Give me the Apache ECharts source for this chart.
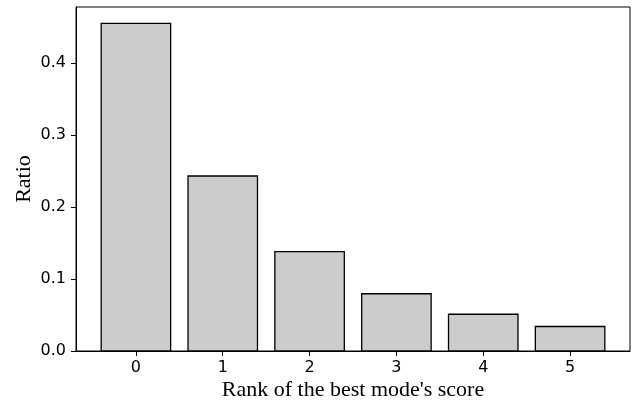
<!DOCTYPE html>
<html><head><meta charset="utf-8">
<script src="https://cdn.jsdelivr.net/npm/echarts@6/dist/echarts.min.js"></script>
<style>html,body{margin:0;padding:0;background:#fff}#c{width:644px;height:400px}</style>
</head><body><div id="c"></div>
<script>
const ranks = [0, 1, 2, 3, 4, 5];
const ratios = [0.455, 0.243, 0.138, 0.0795, 0.051, 0.034];
const yTicks = [0, 0.1, 0.2, 0.3, 0.4];
const chart = echarts.init(document.getElementById('c'));
chart.setOption({
  animation: false,
  grid: {left: 76, right: 14, top: 7, bottom: 49, show: true, borderColor: '#000', borderWidth: 1,
    containLabel: false, outerBoundsMode: 'none'},
  xAxis: {
    type: 'value', min: -0.69, max: 5.69,
    name: "Rank of the best mode's score", nameLocation: 'middle', nameGap: 39, nameMoveOverlap: false,
    nameTextStyle: {fontFamily: 'Liberation Serif', fontSize: 22, color: '#000', verticalAlign: 'middle'},
    axisLine: {show: true, onZero: false, lineStyle: {color: '#000'}},
    axisTick: {show: true, length: 5, customValues: ranks, lineStyle: {color: '#000'}},
    axisLabel: {customValues: ranks, fontFamily: 'DejaVu Sans', fontSize: 16, color: '#000', margin: 9},
    splitLine: {show: false}
  },
  yAxis: {
    type: 'value', min: 0, max: 0.4777,
    name: 'Ratio', nameLocation: 'middle', nameGap: 52, nameMoveOverlap: false,
    nameTextStyle: {fontFamily: 'Liberation Serif', fontSize: 22, color: '#000', verticalAlign: 'middle'},
    axisLine: {show: true, onZero: false, lineStyle: {color: '#000'}},
    axisTick: {show: true, length: 5, customValues: yTicks, lineStyle: {color: '#000'}},
    axisLabel: {customValues: yTicks, fontFamily: 'DejaVu Sans', fontSize: 16, color: '#000', margin: 10,
      formatter: v => v.toFixed(1)},
    splitLine: {show: false}
  },
  series: [{
    type: 'custom',
    data: ranks.map((r, i) => [r, ratios[i]]),
    renderItem: function (params, api) {
      const x = api.value(0), y = api.value(1);
      const p0 = api.coord([x - 0.4, y]);
      const p1 = api.coord([x + 0.4, 0]);
      return {type: 'rect', shape: {x: p0[0], y: p0[1], width: p1[0] - p0[0], height: p1[1] - p0[1]},
        style: {fill: '#cccccc', stroke: '#000', lineWidth: 1.3}};
    }
  }]
});
</script></body></html>
